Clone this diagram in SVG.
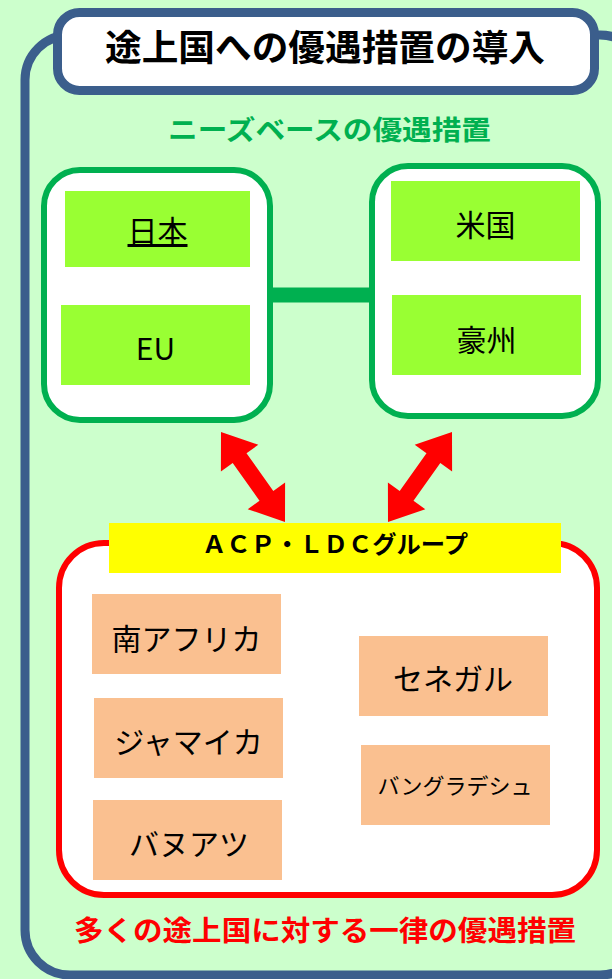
<svg xmlns="http://www.w3.org/2000/svg" width="612" height="979" viewBox="0 0 612 979">
<defs>
<style>
text{font-family:"Noto Sans CJK JP","Noto Sans",sans-serif;text-anchor:middle;fill:#000}
.gbox{fill:#fff;stroke:#00B050;stroke-width:6}
.lime{fill:#99FF33}
.peach{fill:#FAC090}
.lbl{font-size:30px}
.b{font-weight:bold}
</style>
</defs>
<rect x="0" y="0" width="612" height="979" fill="#CCFFCC"/>
<g id="frame">
<rect x="25" y="35" width="620" height="940" rx="45" fill="#CCFFCC" stroke="#3B5E8C" stroke-width="9"/>
</g>
<g id="title">
<rect x="57.5" y="12.5" width="537" height="78" rx="22" fill="#fff" stroke="#3B5E8C" stroke-width="9"/>
<text x="325" y="61" class="b" font-size="36" textLength="440" lengthAdjust="spacingAndGlyphs">途上国への優遇措置の導入</text>
</g>
<g id="needs-label">
<text x="329.5" y="140" class="b" font-size="27" fill="#00B050" style="fill:#00B050" textLength="323" lengthAdjust="spacingAndGlyphs">ニーズベースの優遇措置</text>
</g>
<g id="connectors">
<line x1="272" y1="295" x2="370" y2="295" stroke="#00B050" stroke-width="15"/>
<polygon fill="#FF0000" points="221,432 258.3,444.8 246.5,453.2 273.3,491 285.1,482.6 285,522 247.7,509.2 259.5,500.8 232.7,463 220.9,471.4"/>
<polygon fill="#FF0000" points="452,432 452.1,471.4 440.3,463 413.5,500.8 425.3,509.2 388,522 387.9,482.6 399.7,491 426.5,453.2 414.7,444.8"/>
</g>
<g id="group-left">
<rect class="gbox" x="44" y="170" width="226" height="250" rx="36"/>
</g>
<g id="group-right">
<rect class="gbox" x="372" y="166" width="226" height="250" rx="36"/>
</g>
<g id="japan">
<rect class="lime" x="65" y="191" width="185" height="76"/>
<text x="157.5" y="242" class="lbl" text-decoration="underline" style="text-decoration:underline">日本</text>
</g>
<g id="eu">
<rect class="lime" x="61" y="305" width="189" height="80"/>
<text x="155.5" y="360" font-size="30">EU</text>
</g>
<g id="usa">
<rect class="lime" x="391" y="181" width="189" height="80"/>
<text x="485.5" y="236" class="lbl">米国</text>
</g>
<g id="australia">
<rect class="lime" x="392" y="295" width="189" height="80"/>
<text x="486.5" y="351" class="lbl">豪州</text>
</g>
<g id="acp-ldc">
<rect x="59" y="543" width="538" height="352" rx="45" fill="#fff" stroke="#FF0000" stroke-width="6"/>
<rect x="109" y="523" width="452" height="50" fill="#FFFF00"/>
<text x="335" y="553" class="b" font-size="24" textLength="266" lengthAdjust="spacingAndGlyphs">ＡＣＰ・ＬＤＣグループ</text>
</g>
<g id="south-africa">
<rect class="peach" x="92" y="594" width="189" height="80"/>
<text x="186.5" y="650" class="lbl">南アフリカ</text>
</g>
<g id="jamaica">
<rect class="peach" x="94" y="698" width="189" height="80"/>
<text x="188.5" y="753" class="lbl">ジャマイカ</text>
</g>
<g id="vanuatu">
<rect class="peach" x="93" y="800" width="189" height="80"/>
<text x="189" y="855" class="lbl">バヌアツ</text>
</g>
<g id="senegal">
<rect class="peach" x="359" y="636" width="189" height="80"/>
<text x="453" y="690" class="lbl">セネガル</text>
</g>
<g id="bangladesh">
<rect class="peach" x="361" y="745" width="189" height="80"/>
<text x="455" y="794" font-size="22">バングラデシュ</text>
</g>
<g id="uniform-label">
<text x="325" y="941" class="b" font-size="28" style="fill:#FF0000" textLength="502" lengthAdjust="spacingAndGlyphs">多くの途上国に対する一律の優遇措置</text>
</g>
</svg>
